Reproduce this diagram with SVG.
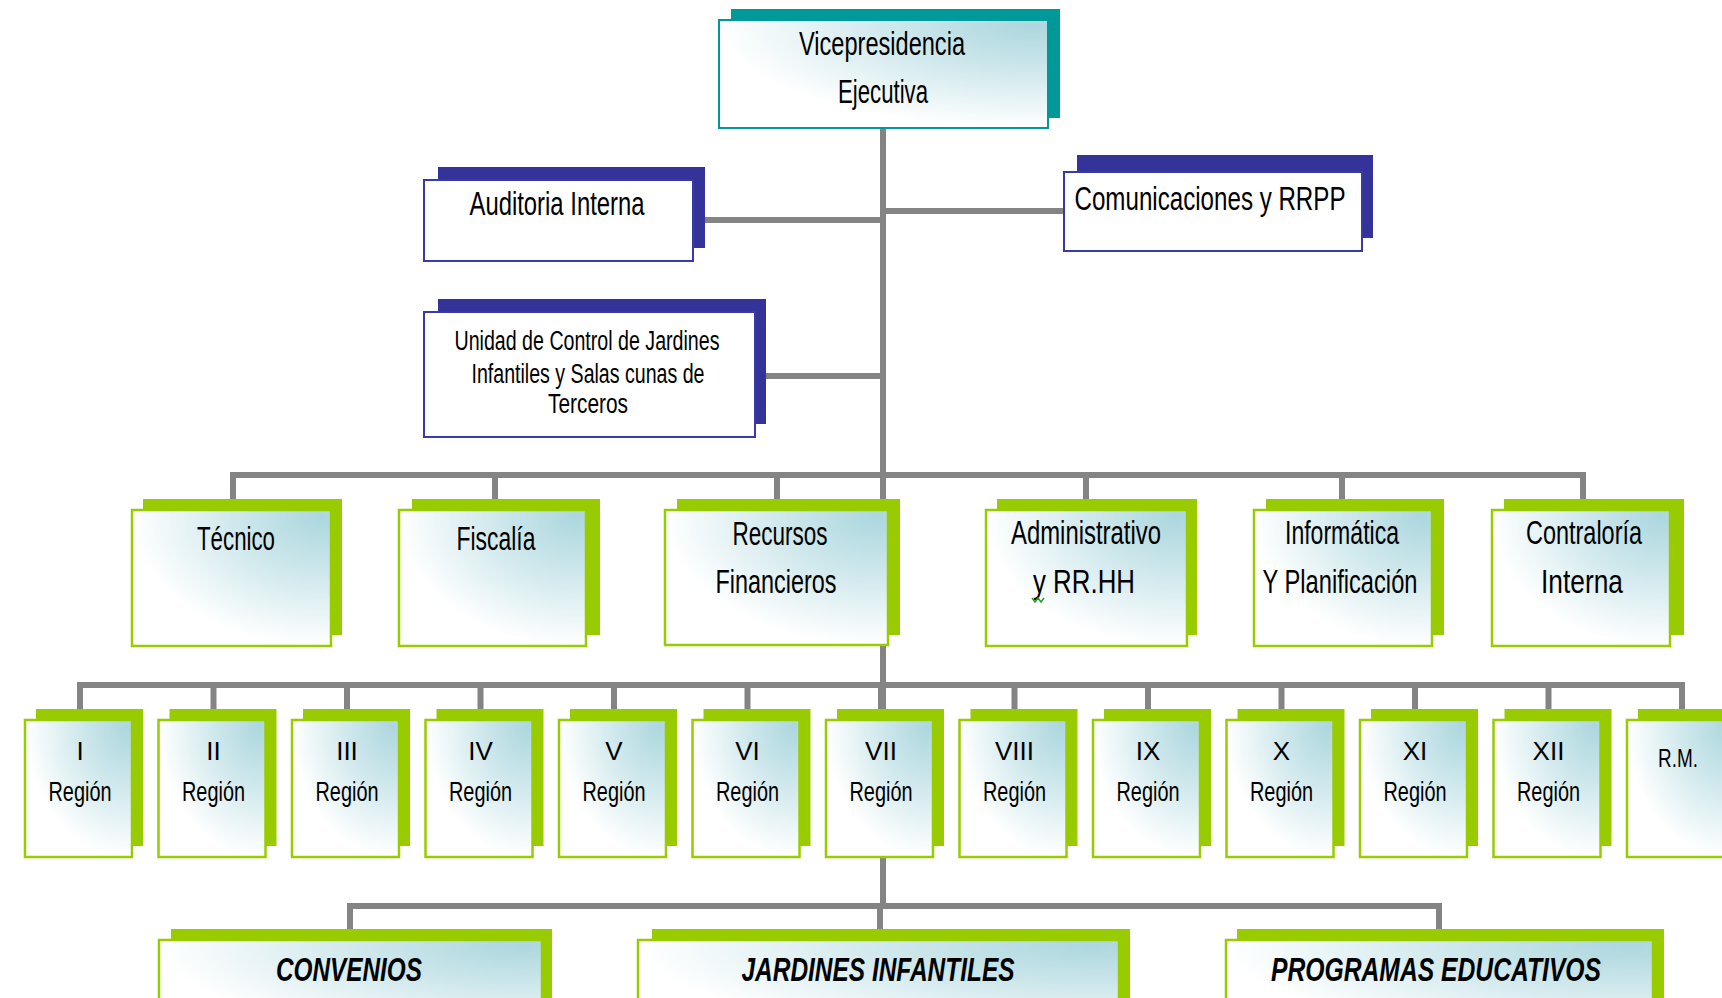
<svg xmlns="http://www.w3.org/2000/svg" width="1722" height="998" viewBox="0 0 1722 998">
<defs>
<radialGradient id="g" cx="0.95" cy="0.05" r="0.95" fx="0.95" fy="0.05">
<stop offset="0" stop-color="#acd7de"/>
<stop offset="0.45" stop-color="#cfe8ec"/>
<stop offset="1" stop-color="#ffffff"/>
</radialGradient>
<style>
.ln{stroke:#848484;stroke-width:6;fill:none}
.gs{fill:#99cc00}
.gm{fill:url(#g);stroke:#99cc00;stroke-width:2.5}
.bs{fill:#333399}
.bm{fill:#ffffff;stroke:#3a3aa6;stroke-width:2}
.ts{fill:#009999}
.tm{fill:url(#g);stroke:#009999;stroke-width:2}
.t{font-family:"Liberation Sans Narrow","Liberation Sans",Arial,sans-serif;fill:#000;text-anchor:middle}
.b{font-weight:bold;font-style:italic}
</style>
</defs>
<rect width="1722" height="998" fill="#ffffff"/>

<g id="connectors">
<path class="ln" d="M883 128V906"/>
<path class="ln" d="M704 220H883M766 376H883M883 211H1064"/>
<path class="ln" d="M233 499V475H1583V499M495 475V499M777 475V499M1086 475V499M1342 475V499"/>
<path class="ln" d="M80 709V685H1682V709M213.5 685V709M347 685V709M480.5 685V709M614 685V709M747.5 685V709M881 685V709M1014.5 685V709M1148 685V709M1281.5 685V709M1415 685V709M1548.5 685V709"/>
<path class="ln" d="M350 929V906H1439V929M880 906V929"/>
</g>

<g id="n-vicepresidencia">
<rect class="ts" x="731" y="9" width="329" height="109"/>
<rect class="tm" x="719" y="20" width="329" height="108"/>
<text class="t" x="882" y="55" font-size="33" textLength="166" lengthAdjust="spacingAndGlyphs">Vicepresidencia</text>
<text class="t" x="883" y="103" font-size="33" textLength="90" lengthAdjust="spacingAndGlyphs">Ejecutiva</text>
</g>

<g id="n-auditoria">
<rect class="bs" x="438" y="167" width="267" height="81"/>
<rect class="bm" x="424" y="180" width="269" height="81"/>
<text class="t" x="557" y="215" font-size="33" textLength="175" lengthAdjust="spacingAndGlyphs">Auditoria Interna</text>
</g>

<g id="n-comunicaciones">
<rect class="bs" x="1077" y="155" width="296" height="83"/>
<rect class="bm" x="1064" y="172" width="298" height="79"/>
<text class="t" x="1210" y="210" font-size="33" textLength="271" lengthAdjust="spacingAndGlyphs">Comunicaciones y RRPP</text>
</g>

<g id="n-unidad">
<rect class="bs" x="438" y="299" width="328" height="125"/>
<rect class="bm" x="424" y="312" width="331" height="125"/>
<text class="t" x="587" y="350" font-size="27" textLength="265" lengthAdjust="spacingAndGlyphs">Unidad de Control de Jardines</text>
<text class="t" x="588" y="383" font-size="27" textLength="233" lengthAdjust="spacingAndGlyphs">Infantiles y Salas cunas de</text>
<text class="t" x="588" y="413" font-size="27" textLength="80" lengthAdjust="spacingAndGlyphs">Terceros</text>
</g>

<g id="n-tecnico">
<rect class="gs" x="143" y="499" width="199" height="136"/>
<rect class="gm" x="132" y="510" width="199" height="136"/>
<text class="t" x="236" y="550" font-size="33" textLength="78" lengthAdjust="spacingAndGlyphs">Técnico</text>
</g>

<g id="n-fiscalia">
<rect class="gs" x="412" y="499" width="188" height="136"/>
<rect class="gm" x="399" y="510" width="187" height="136"/>
<text class="t" x="496" y="550" font-size="33" textLength="79" lengthAdjust="spacingAndGlyphs">Fiscalía</text>
</g>

<g id="n-recursos">
<rect class="gs" x="677" y="499" width="223" height="136"/>
<rect class="gm" x="665" y="510" width="223" height="135"/>
<text class="t" x="780" y="545" font-size="33" textLength="95" lengthAdjust="spacingAndGlyphs">Recursos</text>
<text class="t" x="776" y="593" font-size="33" textLength="121" lengthAdjust="spacingAndGlyphs">Financieros</text>
</g>

<g id="n-administrativo">
<rect class="gs" x="997" y="499" width="200" height="136"/>
<rect class="gm" x="986" y="510" width="201" height="136"/>
<text class="t" x="1086" y="544" font-size="33" textLength="150" lengthAdjust="spacingAndGlyphs">Administrativo</text>
<text class="t" x="1084" y="593" font-size="33" textLength="102" lengthAdjust="spacingAndGlyphs">y RR.HH</text>
<path d="M1032 598l3 4 3-4 3 4 3-4" fill="none" stroke="#2a9a2a" stroke-width="1.5"/>
</g>

<g id="n-informatica">
<rect class="gs" x="1266" y="499" width="178" height="136"/>
<rect class="gm" x="1254" y="510" width="178" height="136"/>
<text class="t" x="1342" y="544" font-size="33" textLength="114" lengthAdjust="spacingAndGlyphs">Informática</text>
<text class="t" x="1340" y="593" font-size="33" textLength="155" lengthAdjust="spacingAndGlyphs">Y Planificación</text>
</g>

<g id="n-contraloria">
<rect class="gs" x="1504" y="499" width="180" height="136"/>
<rect class="gm" x="1492" y="510" width="178" height="136"/>
<text class="t" x="1584" y="544" font-size="33" textLength="116" lengthAdjust="spacingAndGlyphs">Contraloría</text>
<text class="t" x="1582" y="593" font-size="33" textLength="82" lengthAdjust="spacingAndGlyphs">Interna</text>
</g>

<g id="n-region-1">
<rect class="gs" x="36" y="709" width="107" height="137"/>
<rect class="gm" x="25" y="720" width="107" height="137"/>
<text class="t" x="80" y="760" font-size="26">I</text>
<text class="t" x="80" y="801" font-size="27" textLength="63" lengthAdjust="spacingAndGlyphs">Región</text>
</g>
<g id="n-region-2">
<rect class="gs" x="169.5" y="709" width="107" height="137"/>
<rect class="gm" x="158.5" y="720" width="107" height="137"/>
<text class="t" x="213.5" y="760" font-size="26">II</text>
<text class="t" x="213.5" y="801" font-size="27" textLength="63" lengthAdjust="spacingAndGlyphs">Región</text>
</g>
<g id="n-region-3">
<rect class="gs" x="303" y="709" width="107" height="137"/>
<rect class="gm" x="292" y="720" width="107" height="137"/>
<text class="t" x="347" y="760" font-size="26">III</text>
<text class="t" x="347" y="801" font-size="27" textLength="63" lengthAdjust="spacingAndGlyphs">Región</text>
</g>
<g id="n-region-4">
<rect class="gs" x="436.5" y="709" width="107" height="137"/>
<rect class="gm" x="425.5" y="720" width="107" height="137"/>
<text class="t" x="480.5" y="760" font-size="26">IV</text>
<text class="t" x="480.5" y="801" font-size="27" textLength="63" lengthAdjust="spacingAndGlyphs">Región</text>
</g>
<g id="n-region-5">
<rect class="gs" x="570" y="709" width="107" height="137"/>
<rect class="gm" x="559" y="720" width="107" height="137"/>
<text class="t" x="614" y="760" font-size="26">V</text>
<text class="t" x="614" y="801" font-size="27" textLength="63" lengthAdjust="spacingAndGlyphs">Región</text>
</g>
<g id="n-region-6">
<rect class="gs" x="703.5" y="709" width="107" height="137"/>
<rect class="gm" x="692.5" y="720" width="107" height="137"/>
<text class="t" x="747.5" y="760" font-size="26">VI</text>
<text class="t" x="747.5" y="801" font-size="27" textLength="63" lengthAdjust="spacingAndGlyphs">Región</text>
</g>
<g id="n-region-7">
<rect class="gs" x="837" y="709" width="107" height="137"/>
<rect class="gm" x="826" y="720" width="107" height="137"/>
<text class="t" x="881" y="760" font-size="26">VII</text>
<text class="t" x="881" y="801" font-size="27" textLength="63" lengthAdjust="spacingAndGlyphs">Región</text>
</g>
<g id="n-region-8">
<rect class="gs" x="970.5" y="709" width="107" height="137"/>
<rect class="gm" x="959.5" y="720" width="107" height="137"/>
<text class="t" x="1014.5" y="760" font-size="26">VIII</text>
<text class="t" x="1014.5" y="801" font-size="27" textLength="63" lengthAdjust="spacingAndGlyphs">Región</text>
</g>
<g id="n-region-9">
<rect class="gs" x="1104" y="709" width="107" height="137"/>
<rect class="gm" x="1093" y="720" width="107" height="137"/>
<text class="t" x="1148" y="760" font-size="26">IX</text>
<text class="t" x="1148" y="801" font-size="27" textLength="63" lengthAdjust="spacingAndGlyphs">Región</text>
</g>
<g id="n-region-10">
<rect class="gs" x="1237.5" y="709" width="107" height="137"/>
<rect class="gm" x="1226.5" y="720" width="107" height="137"/>
<text class="t" x="1281.5" y="760" font-size="26">X</text>
<text class="t" x="1281.5" y="801" font-size="27" textLength="63" lengthAdjust="spacingAndGlyphs">Región</text>
</g>
<g id="n-region-11">
<rect class="gs" x="1371" y="709" width="107" height="137"/>
<rect class="gm" x="1360" y="720" width="107" height="137"/>
<text class="t" x="1415" y="760" font-size="26">XI</text>
<text class="t" x="1415" y="801" font-size="27" textLength="63" lengthAdjust="spacingAndGlyphs">Región</text>
</g>
<g id="n-region-12">
<rect class="gs" x="1504.5" y="709" width="107" height="137"/>
<rect class="gm" x="1493.5" y="720" width="107" height="137"/>
<text class="t" x="1548.5" y="760" font-size="26">XII</text>
<text class="t" x="1548.5" y="801" font-size="27" textLength="63" lengthAdjust="spacingAndGlyphs">Región</text>
</g>
<g id="n-region-rm">
<rect class="gs" x="1638" y="709" width="107" height="137"/>
<rect class="gm" x="1627" y="720" width="107" height="137"/>
<text class="t" x="1678" y="767" font-size="25" textLength="40" lengthAdjust="spacingAndGlyphs">R.M.</text>
</g>

<g id="n-convenios">
<rect class="gs" x="171" y="929" width="381" height="100"/>
<rect class="gm" x="159" y="940" width="383" height="100"/>
<text class="t b" x="349" y="981" font-size="33" textLength="146" lengthAdjust="spacingAndGlyphs">CONVENIOS</text>
</g>
<g id="n-jardines">
<rect class="gs" x="652" y="929" width="478" height="100"/>
<rect class="gm" x="638" y="940" width="481" height="100"/>
<text class="t b" x="878" y="981" font-size="33" textLength="273" lengthAdjust="spacingAndGlyphs">JARDINES INFANTILES</text>
</g>
<g id="n-programas">
<rect class="gs" x="1237" y="929" width="427" height="100"/>
<rect class="gm" x="1226" y="940" width="427" height="100"/>
<text class="t b" x="1436" y="981" font-size="33" textLength="330" lengthAdjust="spacingAndGlyphs">PROGRAMAS EDUCATIVOS</text>
</g>
</svg>
